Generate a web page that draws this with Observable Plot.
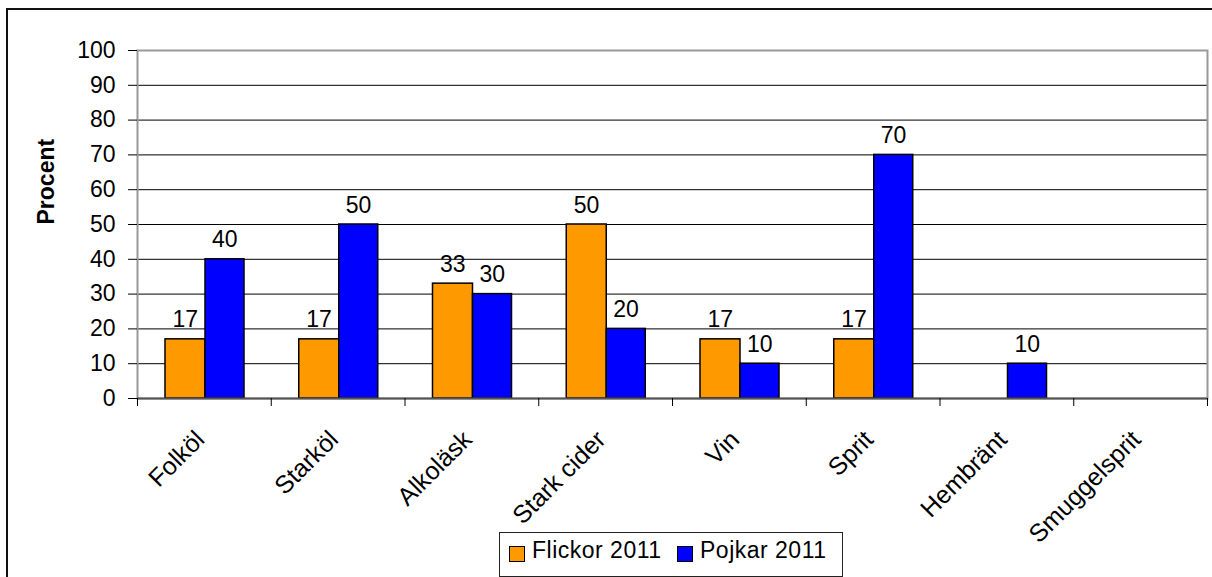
<!DOCTYPE html>
<html><head><meta charset="utf-8">
<script src="https://cdn.jsdelivr.net/npm/d3@7"></script>
<script src="https://cdn.jsdelivr.net/npm/@observablehq/plot@0.6"></script>
<style>
html,body{margin:0;padding:0;background:#fff;overflow:hidden;}
#wrap{position:relative;width:1212px;height:577px;font-family:"Liberation Sans",Arial,sans-serif;}
#chart{position:absolute;left:0;top:0;}
#border{position:absolute;left:6px;top:8px;width:1300px;height:700px;border:2px solid #111;pointer-events:none;box-sizing:border-box;}
#legend{position:absolute;left:499px;top:532px;width:344px;height:45px;border:1px solid #222;box-sizing:border-box;background:#fff;font-size:23px;}
.sw{position:absolute;top:13px;width:16px;height:16px;border:1.5px solid #000;box-sizing:border-box;}
.lt{position:absolute;top:6px;line-height:23px;white-space:nowrap;color:#000;letter-spacing:0.5px;}
</style></head>
<body><div id="wrap"><div id="chart"></div><div id="legend"></div><div id="border"></div></div>
<script>
const categories = ["Folköl","Starköl","Alkoläsk","Stark cider","Vin","Sprit","Hembränt","Smuggelsprit"];
const seriesNames = ["Flickor 2011","Pojkar 2011"];
const flickor = [17,17,33,50,17,17,0,0];
const pojkar = [40,50,30,20,10,70,10,0];
const yTicks = [0,10,20,30,40,50,60,70,80,90,100];
const colors = ["#FF9900","#0000FF"];
const yLabel = "Procent";

const flickRows = categories.map((c,i)=>({cat:c,i,series:seriesNames[0],value:flickor[i]}));
const pojkRows = categories.map((c,i)=>({cat:c,i,series:seriesNames[1],value:pojkar[i]}));
const font = '"Liberation Sans", Arial, sans-serif';

const chart = Plot.plot({
  width: 1212,
  height: 577,
  marginLeft: 137,
  marginRight: 5,
  marginTop: 50,
  marginBottom: 179,
  x: {domain: [0, categories.length]},
  y: {domain: [0, 100]},
  style: {fontFamily: font, fontSize: "23px", background: "transparent", overflow: "visible", color: "#000"},
  marks: [
    Plot.gridY(yTicks.filter(v => v > 0 && v < 100), {stroke: "#000", strokeOpacity: 1, strokeWidth: 1}),
    Plot.frame({stroke: "#999", strokeWidth: 2}),
    Plot.rectY(flickRows, {x1: "i", x2: d => d.i + 1, y1: 0, y2: "value", fill: colors[0], stroke: "#000", strokeWidth: 1.5, insetLeft: 28, insetRight: 65.75}),
    Plot.rectY(pojkRows, {x1: "i", x2: d => d.i + 1, y1: 0, y2: "value", fill: colors[1], stroke: "#000", strokeWidth: 1.5, insetLeft: 68, insetRight: 26.75}),
    Plot.ruleY([0], {stroke: "#555", strokeWidth: 2}),
    Plot.axisY(yTicks, {anchor: "left", tickSize: 9, tickPadding: 13, fontSize: 23, label: null}),
    Plot.axisX(d3.range(categories.length + 1), {anchor: "bottom", tickSize: 8, tickFormat: () => "", label: null}),
    Plot.text(categories, {x: (d, i) => i + 0.5, y: () => 0, text: d => d, rotate: -45, textAnchor: "end", lineAnchor: "top", dx: -11, dy: 30, fontSize: 25}),
    Plot.text(flickRows.filter(d => d.value > 0), {x: d => d.i + 0.5, y: "value", text: d => String(d.value), dx: -19, dy: -12, lineAnchor: "bottom", fontSize: 23}),
    Plot.text(pojkRows.filter(d => d.value > 0), {x: d => d.i + 0.5, y: "value", text: d => String(d.value), dx: 20.5, dy: -12, lineAnchor: "bottom", fontSize: 23}),
    Plot.text([yLabel], {frameAnchor: "left", text: d => d, rotate: -90, dx: -91, fontWeight: "bold", fontSize: 23})
  ]
});
document.getElementById("chart").appendChild(chart);

const legend = document.getElementById("legend");
const pos = [{sw: 9, tx: 32}, {sw: 177, tx: 200}];
seriesNames.forEach((name, k) => {
  const sw = document.createElement("div");
  sw.className = "sw"; sw.style.left = pos[k].sw + "px"; sw.style.background = colors[k];
  const tx = document.createElement("div");
  tx.className = "lt"; tx.style.left = pos[k].tx + "px"; tx.textContent = name;
  legend.appendChild(sw); legend.appendChild(tx);
});
</script>
</body></html>
